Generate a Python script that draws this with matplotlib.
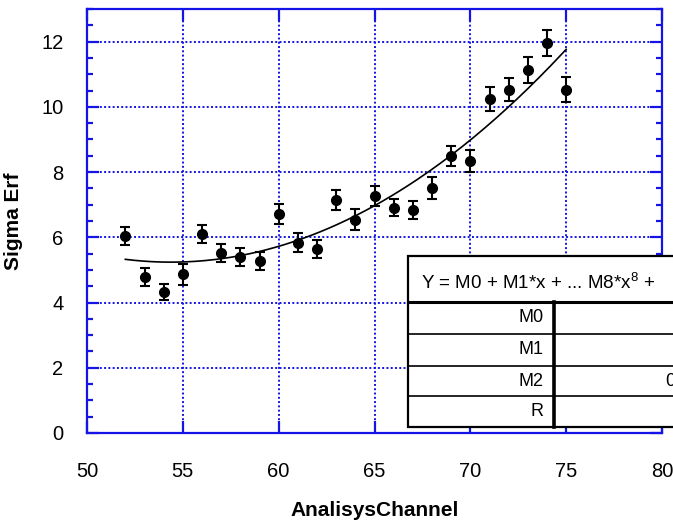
import numpy as np
import matplotlib
matplotlib.use("Agg")
import matplotlib.pyplot as plt
from matplotlib.patches import Rectangle
from matplotlib.lines import Line2D
from matplotlib.ticker import MultipleLocator

plt.rcParams["font.family"] = ["Liberation Sans", "DejaVu Sans"]
plt.rcParams["mathtext.fontset"] = "custom"
plt.rcParams["mathtext.rm"] = "Liberation Sans"

# measured points: channel, sigma and its error
channel = [52, 53, 54, 55, 56, 57, 58, 59, 60, 61, 62, 63,
           64, 65, 66, 67, 68, 69, 70, 71, 72, 73, 74, 75]
sigma = [6.04, 4.79, 4.33, 4.86, 6.10, 5.51, 5.40, 5.28, 6.71, 5.84, 5.64, 7.15,
         6.54, 7.27, 6.91, 6.84, 7.52, 8.50, 8.35, 10.25, 10.53, 11.14, 11.97, 10.53]
sigma_err = [0.27, 0.28, 0.25, 0.32, 0.28, 0.28, 0.27, 0.27, 0.30, 0.28, 0.27, 0.30,
             0.32, 0.30, 0.27, 0.28, 0.34, 0.31, 0.34, 0.37, 0.34, 0.40, 0.40, 0.37]

row_labels = ["M0", "M1", "M2", "R"]
row_values = ["", "", "0", ""]
header = r"Y = M0 + M1*x + ... M8*x$^{8}$ +"

BLUE = "#1414e6"
W, H = 673, 526

fig = plt.figure(figsize=(W / 100, H / 100), dpi=100)
ax = fig.add_axes([87 / W, 1 - 433 / H, 575 / W, 424 / H])

# quadratic fit through the points
coef = np.polyfit(channel, sigma, 2)
xf = np.linspace(channel[0], channel[-1], 200)
ax.plot(xf, np.polyval(coef, xf), color="black", lw=1.2, zorder=3)

ax.errorbar(channel, sigma, yerr=sigma_err, fmt="o", color="black",
            ms=7, capsize=3.5, capthick=1.5, elinewidth=1.5, zorder=4)

ax.set_xlim(50, 80)
ax.set_ylim(0, 13)
ax.xaxis.set_major_locator(MultipleLocator(5))
ax.yaxis.set_major_locator(MultipleLocator(2))
ax.yaxis.set_minor_locator(MultipleLocator(0.5))
ax.grid(True, which="major", color=BLUE, ls=(0, (1, 1.2)), lw=1.4)

for s in ax.spines.values():
    s.set_color(BLUE)
    s.set_linewidth(1.6)
ax.tick_params(which="both", direction="in", color=BLUE, top=True, right=True,
               labelsize=14.5, width=1.6)
ax.tick_params(which="major", length=8.5)
ax.tick_params(which="minor", length=4.5)
ax.tick_params(axis="x", pad=21)
ax.tick_params(axis="y", pad=17)

ax.set_xlabel("AnalisysChannel", fontsize=15, fontweight="bold", labelpad=14)
ax.set_ylabel("Sigma Erf", fontsize=15, fontweight="bold", labelpad=13)

# parameter table of the fit, partly running off the right edge
def fx(px):
    return px / W

def fy(py):
    return 1 - py / H

top, head_bot, bot = 256, 302, 427
row_lines = [334, 366, 396]
left, mid, right = 408, 554, 720

fig.patches.append(Rectangle((fx(left), fy(bot)), fx(right - left), (bot - top) / H,
                             transform=fig.transFigure, facecolor="white",
                             edgecolor="black", lw=1.6, zorder=5))
fig.lines.append(Line2D([fx(left), fx(right)], [fy(head_bot)] * 2,
                        transform=fig.transFigure, color="black", lw=2.2, zorder=6))
for yl in row_lines:
    fig.lines.append(Line2D([fx(left), fx(right)], [fy(yl)] * 2,
                            transform=fig.transFigure, color="black", lw=1.2, zorder=6))
fig.lines.append(Line2D([fx(mid)] * 2, [fy(head_bot), fy(bot)],
                        transform=fig.transFigure, color="black", lw=2.6, zorder=6))

fig.text(fx(421), fy((top + head_bot) / 2 + 4), header, fontsize=13.5,
         ha="left", va="center", zorder=7)
bounds = [head_bot] + row_lines + [bot]
for i, (lab, val) in enumerate(zip(row_labels, row_values)):
    yc = (bounds[i] + bounds[i + 1]) / 2
    fig.text(fx(544), fy(yc), lab, fontsize=13, ha="right", va="center", zorder=7)
    fig.text(fx(675), fy(yc), val, fontsize=13, ha="right", va="center", zorder=7)

fig.savefig("out.png", dpi=100)
